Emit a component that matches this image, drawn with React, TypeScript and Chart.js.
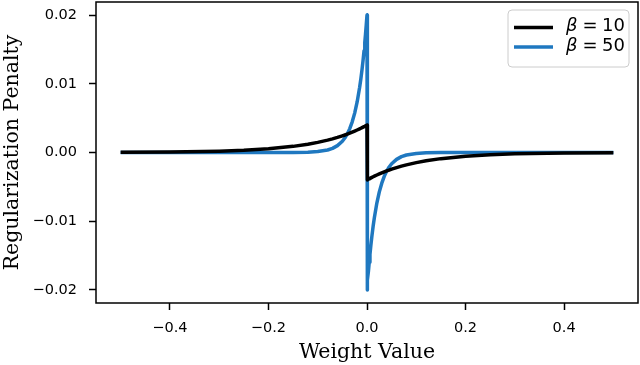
import React, { useEffect, useRef } from "react";
import { Chart, registerables } from "chart.js";

Chart.register(...registerables);

const weightValues = [
  -0.5, -0.4, -0.3, -0.25, -0.2, -0.15, -0.12, -0.1, -0.08, -0.07, -0.06, -0.05, -0.045, -0.04, -0.035,
  -0.03, -0.025, -0.02, -0.015, -0.0125, -0.01, -0.008, -0.006, -0.0045, -0.003, -0.0015, 0,
  0, 0.0015, 0.003, 0.0045, 0.006, 0.008, 0.01, 0.0125, 0.015, 0.02, 0.025, 0.03, 0.035, 0.04,
  0.045, 0.05, 0.06, 0.07, 0.08, 0.1, 0.12, 0.15, 0.2, 0.25, 0.3, 0.4, 0.5,
];

const penaltyBeta10 = [
  0.000027, 0.000073, 0.000199, 0.000328, 0.000541, 0.000893, 0.001205, 0.001472, 0.001797, 0.001986,
  0.002195, 0.002426, 0.00255, 0.002681, 0.002819, 0.002963, 0.003115, 0.003275, 0.003443, 0.00353,
  0.003619, 0.003692, 0.003767, 0.003824, 0.003882, 0.00394, 0.004,
  -0.004, -0.00394, -0.003882, -0.003824, -0.003767, -0.003692, -0.003619, -0.00353, -0.003443,
  -0.003275, -0.003115, -0.002963, -0.002819, -0.002681, -0.00255, -0.002426, -0.002195, -0.001986,
  -0.001797, -0.001472, -0.001205, -0.000893, -0.000541, -0.000328, -0.000199, -0.000073, -0.000027,
];

const penaltyBeta50 = [
  0, 0, 0, 0, 0.000001, 0.000011, 0.00005, 0.000135, 0.000366, 0.000604, 0.000996, 0.001642, 0.002108,
  0.002707, 0.003475, 0.004463, 0.00573, 0.007358, 0.009447, 0.010706, 0.01213, 0.013406, 0.014816,
  0.01597, 0.017214, 0.018554, 0.02,
  -0.02, -0.018554, -0.017214, -0.01597, -0.014816, -0.013406, -0.01213, -0.010706, -0.009447,
  -0.007358, -0.00573, -0.004463, -0.003475, -0.002707, -0.002108, -0.001642, -0.000996, -0.000604,
  -0.000366, -0.000135, -0.00005, -0.000011, -0.000001, 0, 0, 0, 0,
];

const seriesNames = ["10", "50"];
const xTicks = [-0.4, -0.2, 0.0, 0.2, 0.4];
const yTicks = [-0.02, -0.01, 0.0, 0.01, 0.02];

const fmt = (v: number, d: number) => {
  const s = Math.abs(v).toFixed(d);
  return v < -1e-12 ? "\u2212" + s : s;
};

const framePlugin = {
  id: "frame",
  afterDraw(chart: any) {
    const { ctx, chartArea } = chart;
    ctx.save();
    ctx.strokeStyle = "#000";
    ctx.lineWidth = 1.5;
    ctx.strokeRect(chartArea.left, chartArea.top, chartArea.right - chartArea.left, chartArea.bottom - chartArea.top);
    ctx.restore();
  },
};

const legendPlugin = {
  id: "mplLegend",
  afterDraw(chart: any) {
    const { ctx } = chart;
    const x0 = 508, y0 = 10, w = 121, h = 57, r = 4;
    ctx.save();
    ctx.beginPath();
    ctx.moveTo(x0 + r, y0);
    ctx.arcTo(x0 + w, y0, x0 + w, y0 + h, r);
    ctx.arcTo(x0 + w, y0 + h, x0, y0 + h, r);
    ctx.arcTo(x0, y0 + h, x0, y0, r);
    ctx.arcTo(x0, y0, x0 + w, y0, r);
    ctx.closePath();
    ctx.fillStyle = "rgba(255,255,255,0.8)";
    ctx.fill();
    ctx.strokeStyle = "#cccccc";
    ctx.lineWidth = 1;
    ctx.stroke();
    chart.data.datasets.forEach((ds: any, i: number) => {
      const y = 27.5 + i * 19.5;
      ctx.strokeStyle = ds.borderColor;
      ctx.lineWidth = 3.5;
      ctx.lineCap = "butt";
      ctx.beginPath();
      ctx.moveTo(514, y);
      ctx.lineTo(553, y);
      ctx.stroke();
      const ty = y - 1;
      ctx.fillStyle = "#000";
      ctx.textBaseline = "middle";
      ctx.font = "oblique 18px 'DejaVu Sans'";
      ctx.textAlign = "left";
      ctx.fillText("\u03b2", 566, ty);
      ctx.font = "18px 'DejaVu Sans'";
      ctx.textAlign = "center";
      ctx.fillText("=", 590, ty);
      ctx.textAlign = "left";
      ctx.fillText(seriesNames[i], 602, ty);
    });
    ctx.restore();
  },
};

export default function App() {
  const canvasRef = useRef<HTMLCanvasElement | null>(null);

  useEffect(() => {
    document.body.style.margin = "0";
    const canvas = canvasRef.current;
    if (!canvas) return;
    const toPoints = (ys: number[]) => weightValues.map((x, i) => ({ x, y: ys[i] }));
    const tickFont = { family: "'DejaVu Sans'", size: 14.5 };
    const titleFont = { family: "'DejaVu Serif'", size: 20.5 };
    const chart = new Chart(canvas, {
      type: "line",
      data: {
        datasets: [
          {
            label: "\u03b2 = " + seriesNames[0],
            data: toPoints(penaltyBeta10),
            borderColor: "#000000",
            borderWidth: 3.5,
            pointRadius: 0,
            tension: 0,
            borderJoinStyle: "round",
            fill: false,
          },
          {
            label: "\u03b2 = " + seriesNames[1],
            data: toPoints(penaltyBeta50),
            borderColor: "#1f78c0",
            borderWidth: 3.5,
            pointRadius: 0,
            tension: 0,
            borderJoinStyle: "round",
            fill: false,
          },
        ],
      },
      options: {
        responsive: false,
        animation: false,
        layout: { padding: { top: 2, right: 2, left: 0, bottom: 0 } },
        plugins: { legend: { display: false }, tooltip: { enabled: false } },
        scales: {
          x: {
            type: "linear",
            min: -0.55,
            max: 0.55,
            afterBuildTicks: (s: any) => {
              s.ticks = xTicks.map((v) => ({ value: v }));
            },
            afterFit: (s: any) => {
              s.height = 62;
              s.paddingLeft = 0;
              s.paddingRight = 0;
            },
            ticks: {
              color: "#000",
              font: tickFont,
              padding: 10,
              maxRotation: 0,
              autoSkip: false,
              callback: (v: any) => fmt(Number(v), 1),
            },
            grid: { drawOnChartArea: false, drawTicks: true, tickLength: 7, tickWidth: 1.5, tickColor: "#000" },
            border: { display: false },
            title: { display: true, text: "Weight Value", color: "#000", font: titleFont, padding: 0 },
          },
          y: {
            type: "linear",
            min: -0.0219,
            max: 0.0219,
            afterBuildTicks: (s: any) => {
              s.ticks = yTicks.map((v) => ({ value: v }));
            },
            afterFit: (s: any) => {
              s.width = 96;
              s.paddingTop = 0;
              s.paddingBottom = 0;
            },
            ticks: {
              color: "#000",
              font: tickFont,
              padding: 12,
              autoSkip: false,
              callback: (v: any) => fmt(Number(v), 2),
            },
            grid: { drawOnChartArea: false, drawTicks: true, tickLength: 7, tickWidth: 1.5, tickColor: "#000" },
            border: { display: false },
            title: { display: true, text: "Regularization Penalty", color: "#000", font: titleFont, padding: 0 },
          },
        },
      },
      plugins: [framePlugin, legendPlugin],
    } as any);
    return () => chart.destroy();
  }, []);

  return (
    <div style={{ width: 640, height: 365 }}>
      <canvas ref={canvasRef} width={640} height={365} style={{ display: "block" }} />
    </div>
  );
}
